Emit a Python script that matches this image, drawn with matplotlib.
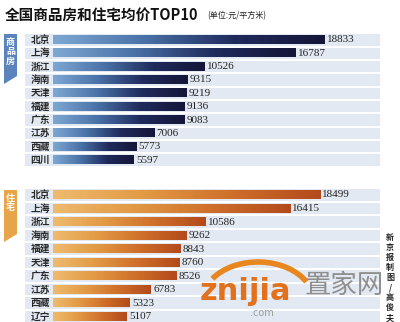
import matplotlib.pyplot as plt
import numpy as np
from matplotlib.colors import LinearSegmentedColormap
from matplotlib.patches import Polygon, Arc

plt.rcParams['font.family'] = ['Noto Sans CJK SC', 'DejaVu Sans']

# 商品房均价
house_cities = ['北京', '上海', '浙江', '海南', '天津', '福建', '广东', '江苏', '西藏', '四川']
house_prices = [18833, 16787, 10526, 9315, 9219, 9136, 9083, 7006, 5773, 5597]

# 住宅均价
home_cities = ['北京', '上海', '浙江', '海南', '福建', '天津', '广东', '江苏', '西藏', '辽宁']
home_prices = [18499, 16415, 10586, 9262, 8843, 8760, 8526, 6783, 5323, 5107]

W, H = 400, 322
PX_PER_UNIT = 0.01444
ZERO_PX = 53

blue_cmap = LinearSegmentedColormap.from_list('b', ['#7ea8d3', '#4a72a8', '#1f2a5c', '#151638'])
orange_cmap = LinearSegmentedColormap.from_list('o', ['#eebb6e', '#e39a45', '#cf6f2a', '#b34a1b'])

fig = plt.figure(figsize=(W / 100, H / 100), dpi=100)
fig.patch.set_facecolor('white')


def panel(top_px, bottom_px, cities, values, cmap):
    left_px, right_px = 25, 380
    ax = fig.add_axes([left_px / W, 1 - bottom_px / H,
                       (right_px - left_px) / W, (bottom_px - top_px) / H])
    x0 = -(ZERO_PX - left_px) / PX_PER_UNIT
    x1 = (right_px - ZERO_PX) / PX_PER_UNIT
    n = len(values)
    y = np.arange(n)
    # 底色条纹
    ax.barh(y, x1 - x0, left=x0, height=0.86, color='#e3e9f2', zorder=0)
    grad = np.linspace(0, 1, 256).reshape(1, -1)
    for i, v in enumerate(values):
        ax.imshow(grad, cmap=cmap, aspect='auto', extent=(0, v, i + 0.3, i - 0.3),
                  zorder=2, interpolation='bilinear')
        ax.text(v + 150, i, f'{v}', va='center', ha='left', fontsize=8,
                family='Liberation Serif', color='#222222', zorder=3)
        ax.text(-200, i, cities[i], va='center', ha='right', fontsize=7,
                fontweight='bold', color='#2a2a2a', zorder=3)
    ax.set_xlim(x0, x1)
    ax.set_ylim(n - 0.5, -0.5)
    ax.axis('off')
    return ax


panel(33.3, 166.7, house_cities, house_prices, blue_cmap)
panel(188.2, 323.5, home_cities, home_prices, orange_cmap)

# 左侧标签
def tag(x0, x1, top, bl, br, color, label):
    pts = [(x0, top), (x1, top), (x1, br), (x0, bl)]
    pts = [(x / W, 1 - y / H) for x, y in pts]
    fig.patches.append(Polygon(pts, closed=True, facecolor=color, edgecolor='none',
                               transform=fig.transFigure, zorder=5))
    fig.text((x0 + x1) / 2 / W, 1 - (top + 4) / H, '\n'.join(label), ha='center', va='top',
             fontsize=6.5, color='white', fontweight='bold', linespacing=1.05, zorder=6)


tag(4, 17, 34, 84, 76, '#5a84bb', '商品房')
tag(4, 17, 190, 242, 234, '#e8a448', '住宅')

# 标题
fig.text(5 / W, 1 - 15 / H, '全国商品房和住宅均价TOP10', ha='left', va='center',
         fontsize=10.5, fontweight='bold', color='#111111')
fig.text(207 / W, 1 - 16 / H, '(单位:元/平方米)', ha='left', va='center',
         fontsize=5.8, color='#222222')

# 署名
fig.text(390 / W, 1 - 233 / H, '\n'.join('新京报制图/高俊夫'), ha='center', va='top',
         fontsize=5.8, color='#222222', linespacing=1.15, fontweight='bold')

# 水印
fig.text(200 / W, 1 - 300 / H, 'znijia', ha='left', va='baseline', fontsize=22,
         fontweight='bold', color='#e2711d', family='DejaVu Sans', zorder=8)
fig.text(304 / W, 1 - 285 / H, '置家网', ha='left', va='center', fontsize=19,
         color='#8f8f8f', zorder=8)
fig.text(262 / W, 1 - 313 / H, '.com', ha='center', va='center', fontsize=7,
         color='#9a9a9a', family='DejaVu Sans', zorder=8)
fig.patches.append(Arc((258 / W, 1 - 300 / H), 110 / W, 76 / H, theta1=25, theta2=150,
                       transform=fig.transFigure, color='#e8861f', lw=4, zorder=7))

fig.savefig('out.png', dpi=100)
